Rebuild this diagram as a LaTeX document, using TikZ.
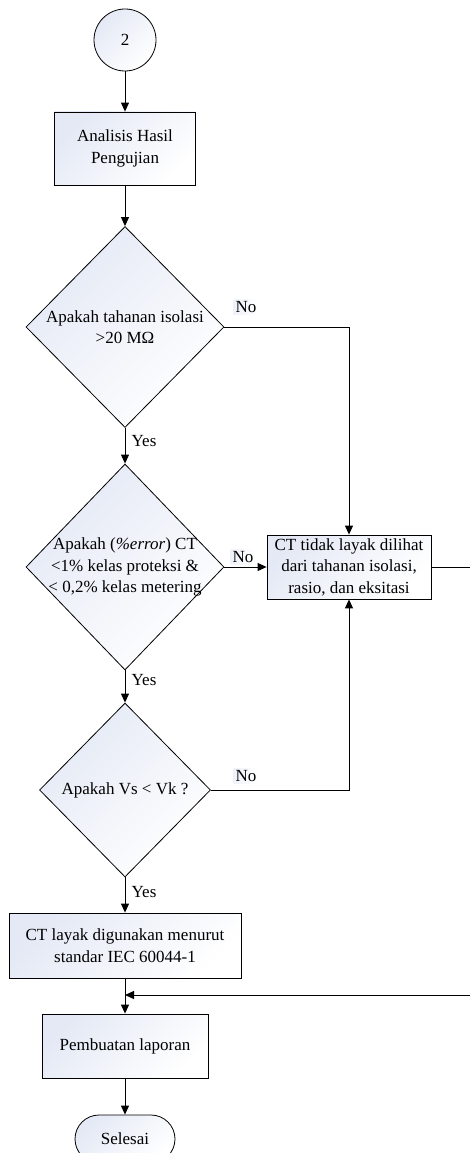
\documentclass[tikz,border=0pt]{standalone}
\usepackage{fontspec}
\setmainfont{Liberation Serif}
\usetikzlibrary{shapes.geometric, arrows.meta}
\definecolor{fillblue}{RGB}{228,233,245}

\begin{document}
\begin{tikzpicture}[x=1pt, y=-1pt,
    every node/.style={font=\fontsize{17}{21.5}\selectfont},
    box/.style={rectangle, draw, line width=0.8pt, top color=fillblue, bottom color=white, shading angle=45, align=center, inner sep=0pt},
    decision/.style={diamond, draw, line width=0.8pt, top color=fillblue, bottom color=white, shading angle=45, inner sep=0pt},
    flow/.style={line width=1pt, -{Triangle[length=9pt, width=8pt]}},
    tag/.style={inner sep=2pt, left color=fillblue!60, right color=white}]
    \useasboundingbox (0,0) rectangle (470,1153);

    % Draw nodes
    \node[circle, draw, line width=0.8pt, top color=fillblue, bottom color=white, shading angle=45, minimum size=62pt] (1) at (125,40) {2};
    \node[box, minimum width=141pt, minimum height=73pt] (2) at (125,148.5) {Analisis Hasil\\Pengujian};
    \node[decision, minimum width=198pt, minimum height=201pt] (3) at (125,327) {};
    \node[align=center] (t3) at (3) {Apakah tahanan isolasi\\>20 MΩ};
    \node[decision, minimum width=198pt, minimum height=206pt] (4) at (125,567) {};
    \node[align=center] (t4) at (4) {Apakah (\textit{\%error}) CT\\<1\% kelas proteksi \&\\< 0,2\% kelas metering};
    \node[box, minimum width=164pt, minimum height=64pt] (5) at (349,567) {CT tidak layak dilihat\\dari tahanan isolasi,\\rasio, dan eksitasi};
    \node[decision, minimum width=171pt, minimum height=174pt] (6) at (125,790) {};
    \node (t6) at (6) {Apakah Vs < Vk ?};
    \node[box, minimum width=232pt, minimum height=65pt] (7) at (125,945.5) {CT layak digunakan menurut\\standar IEC 60044-1};
    \node[box, minimum width=166pt, minimum height=64pt] (8) at (125,1046) {Pembuatan laporan};
    \node[box, rounded corners=24pt, minimum width=100pt, minimum height=48pt] (9) at (125,1139) {Selesai};
    \coordinate (j) at (125,995);
    \coordinate (loop) at (480,995);

    % Labels
    \node[tag] (no1) at (246,307) {No};
    \node[tag] (no2) at (243,557) {No};
    \node[tag] (no3) at (246,776) {No};
    \node[inner sep=1pt] (yes1) at (144,441) {Yes};
    \node[inner sep=1pt] (yes2) at (144,680) {Yes};
    \node[inner sep=1pt] (yes3) at (144,892) {Yes};

    % Draw connections
    \draw[flow] (1) -- (2);
    \draw[flow] (2) -- (3);
    \draw[flow] (3) -- (4);
    \draw[flow] (4) -- (6);
    \draw[flow] (6) -- (7);
    \draw[flow] (7) -- (8);
    \draw[flow] (8) -- (9);
    \draw[flow] (4) -- (5);
    \draw[flow] (3.east) -| (5.north);
    \draw[flow] (6.east) -| (5.south);
    \draw[flow] (5.east) -| (loop) -- (j);
\end{tikzpicture}
\end{document}
